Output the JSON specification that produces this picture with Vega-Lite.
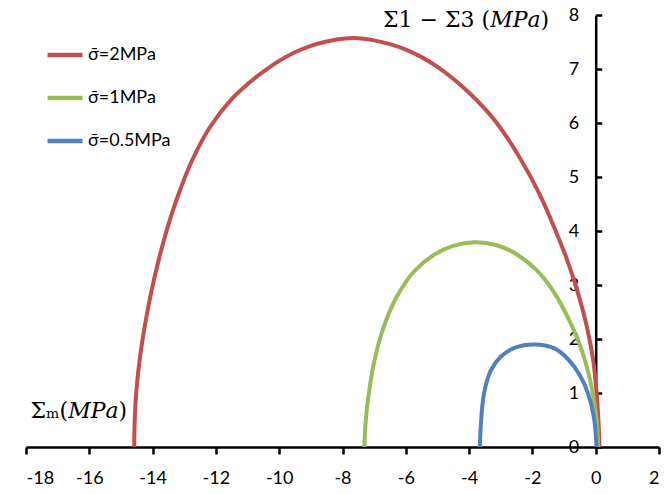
{
  "$schema": "https://vega.github.io/schema/vega-lite/v6.json",
  "autosize": "none",
  "width": 633,
  "height": 432,
  "padding": {"left": 26, "top": 15, "right": 5, "bottom": 47},
  "background": "white",
  "config": {
    "view": {"stroke": null},
    "axis": {
      "grid": false,
      "domainColor": "black",
      "domainWidth": 2.5,
      "tickColor": "black",
      "tickWidth": 2.5,
      "labelColor": "black",
      "labelFont": "Lato",
      "labelFontSize": 18,
      "labelExpr": "replace(datum.label, '−', '-')",
      "titleColor": "black",
      "titleFont": "DejaVu Serif",
      "titleFontSize": 22,
      "titleFontWeight": "normal"
    }
  },
  "data": {
    "values": [
      {"s": "σ̄=2MPa", "x": -14.58, "y": 0},
      {"s": "σ̄=2MPa", "x": -14.565, "y": 0.5},
      {"s": "σ̄=2MPa", "x": -14.52, "y": 0.99},
      {"s": "σ̄=2MPa", "x": -14.41, "y": 1.61},
      {"s": "σ̄=2MPa", "x": -14.25, "y": 2.23},
      {"s": "σ̄=2MPa", "x": -14.05, "y": 2.85},
      {"s": "σ̄=2MPa", "x": -13.81, "y": 3.46},
      {"s": "σ̄=2MPa", "x": -13.52, "y": 4.08},
      {"s": "σ̄=2MPa", "x": -13.17, "y": 4.7},
      {"s": "σ̄=2MPa", "x": -12.75, "y": 5.31},
      {"s": "σ̄=2MPa", "x": -12.18, "y": 5.93},
      {"s": "σ̄=2MPa", "x": -11.49, "y": 6.45},
      {"s": "σ̄=2MPa", "x": -11.0, "y": 6.72},
      {"s": "σ̄=2MPa", "x": -10.5, "y": 6.95},
      {"s": "σ̄=2MPa", "x": -10.0, "y": 7.15},
      {"s": "σ̄=2MPa", "x": -9.5, "y": 7.31},
      {"s": "σ̄=2MPa", "x": -9.0, "y": 7.43},
      {"s": "σ̄=2MPa", "x": -8.5, "y": 7.51},
      {"s": "σ̄=2MPa", "x": -8.0, "y": 7.56},
      {"s": "σ̄=2MPa", "x": -7.5, "y": 7.57},
      {"s": "σ̄=2MPa", "x": -7.0, "y": 7.53},
      {"s": "σ̄=2MPa", "x": -6.5, "y": 7.46},
      {"s": "σ̄=2MPa", "x": -6.0, "y": 7.36},
      {"s": "σ̄=2MPa", "x": -5.5, "y": 7.22},
      {"s": "σ̄=2MPa", "x": -5.0, "y": 7.04},
      {"s": "σ̄=2MPa", "x": -4.5, "y": 6.82},
      {"s": "σ̄=2MPa", "x": -4.0, "y": 6.56},
      {"s": "σ̄=2MPa", "x": -3.5, "y": 6.26},
      {"s": "σ̄=2MPa", "x": -3.06, "y": 5.95},
      {"s": "σ̄=2MPa", "x": -2.37, "y": 5.33},
      {"s": "σ̄=2MPa", "x": -1.79, "y": 4.7},
      {"s": "σ̄=2MPa", "x": -1.32, "y": 4.08},
      {"s": "σ̄=2MPa", "x": -0.9, "y": 3.46},
      {"s": "σ̄=2MPa", "x": -0.56, "y": 2.85},
      {"s": "σ̄=2MPa", "x": -0.28, "y": 2.23},
      {"s": "σ̄=2MPa", "x": -0.08, "y": 1.61},
      {"s": "σ̄=2MPa", "x": 0.03, "y": 0.99},
      {"s": "σ̄=2MPa", "x": 0.09, "y": 0.45},
      {"s": "σ̄=2MPa", "x": 0.12, "y": 0},

      {"s": "σ̄=1MPa", "x": -7.31, "y": 0},
      {"s": "σ̄=1MPa", "x": -7.27, "y": 0.45},
      {"s": "σ̄=1MPa", "x": -7.2, "y": 0.85},
      {"s": "σ̄=1MPa", "x": -7.01, "y": 1.55},
      {"s": "σ̄=1MPa", "x": -6.7, "y": 2.22},
      {"s": "σ̄=1MPa", "x": -6.27, "y": 2.8},
      {"s": "σ̄=1MPa", "x": -5.74, "y": 3.25},
      {"s": "σ̄=1MPa", "x": -5.11, "y": 3.56},
      {"s": "σ̄=1MPa", "x": -4.48, "y": 3.73},
      {"s": "σ̄=1MPa", "x": -3.84, "y": 3.79},
      {"s": "σ̄=1MPa", "x": -3.15, "y": 3.74},
      {"s": "σ̄=1MPa", "x": -2.5, "y": 3.57},
      {"s": "σ̄=1MPa", "x": -1.86, "y": 3.27},
      {"s": "σ̄=1MPa", "x": -1.32, "y": 2.87},
      {"s": "σ̄=1MPa", "x": -0.88, "y": 2.4},
      {"s": "σ̄=1MPa", "x": -0.47, "y": 1.84},
      {"s": "σ̄=1MPa", "x": -0.17, "y": 1.22},
      {"s": "σ̄=1MPa", "x": 0.02, "y": 0.56},
      {"s": "σ̄=1MPa", "x": 0.08, "y": 0},

      {"s": "σ̄=0.5MPa", "x": -3.66, "y": 0},
      {"s": "σ̄=0.5MPa", "x": -3.63, "y": 0.4},
      {"s": "σ̄=0.5MPa", "x": -3.53, "y": 0.99},
      {"s": "σ̄=0.5MPa", "x": -3.32, "y": 1.41},
      {"s": "σ̄=0.5MPa", "x": -3.0, "y": 1.67},
      {"s": "σ̄=0.5MPa", "x": -2.55, "y": 1.84},
      {"s": "σ̄=0.5MPa", "x": -1.93, "y": 1.9},
      {"s": "σ̄=0.5MPa", "x": -1.32, "y": 1.83},
      {"s": "σ̄=0.5MPa", "x": -0.88, "y": 1.63},
      {"s": "σ̄=0.5MPa", "x": -0.5, "y": 1.33},
      {"s": "σ̄=0.5MPa", "x": -0.24, "y": 0.99},
      {"s": "σ̄=0.5MPa", "x": -0.06, "y": 0.56},
      {"s": "σ̄=0.5MPa", "x": 0.03, "y": 0}
    ]
  },
  "mark": {"type": "line", "strokeWidth": 4, "interpolate": "catmull-rom", "clip": false},
  "encoding": {
    "x": {
      "field": "x",
      "type": "quantitative",
      "scale": {"domain": [-18, 2], "nice": false, "zero": false},
      "axis": {
        "orient": "bottom",
        "values": [-18, -16, -14, -12, -10, -8, -6, -4, -2, 0, 2],
        "tickSize": 7,
        "labelPadding": 15,
        "title": "Σₘ(𝑀𝑃𝑎)",
        "titleAngle": 0,
        "titleAlign": "left",
        "titleBaseline": "middle",
        "titleX": 4,
        "titleY": -37
      }
    },
    "y": {
      "field": "y",
      "type": "quantitative",
      "scale": {"domain": [0, 8], "nice": false},
      "axis": {
        "orient": "right",
        "offset": -63.3,
        "values": [0, 1, 2, 3, 4, 5, 6, 7, 8],
        "tickSize": 6,
        "labelAlign": "right",
        "labelBaseline": "middle",
        "labelPadding": -23,
        "title": "Σ1 − Σ3 (𝑀𝑃𝑎)",
        "titleAngle": 0,
        "titleAlign": "right",
        "titleBaseline": "middle",
        "titleX": -47,
        "titleY": 4
      }
    },
    "color": {
      "field": "s",
      "type": "nominal",
      "scale": {
        "domain": ["σ̄=2MPa", "σ̄=1MPa", "σ̄=0.5MPa"],
        "range": ["#C0504D", "#9BBB59", "#4F81BD"]
      },
      "legend": {
        "title": null,
        "orient": "none",
        "legendX": 19,
        "legendY": 20,
        "symbolType": "stroke",
        "symbolSize": 1225,
        "symbolStrokeWidth": 4.5,
        "rowPadding": 14,
        "labelFont": "Lato",
        "labelFontSize": 18,
        "labelColor": "black",
        "labelOffset": 3
      }
    }
  }
}
